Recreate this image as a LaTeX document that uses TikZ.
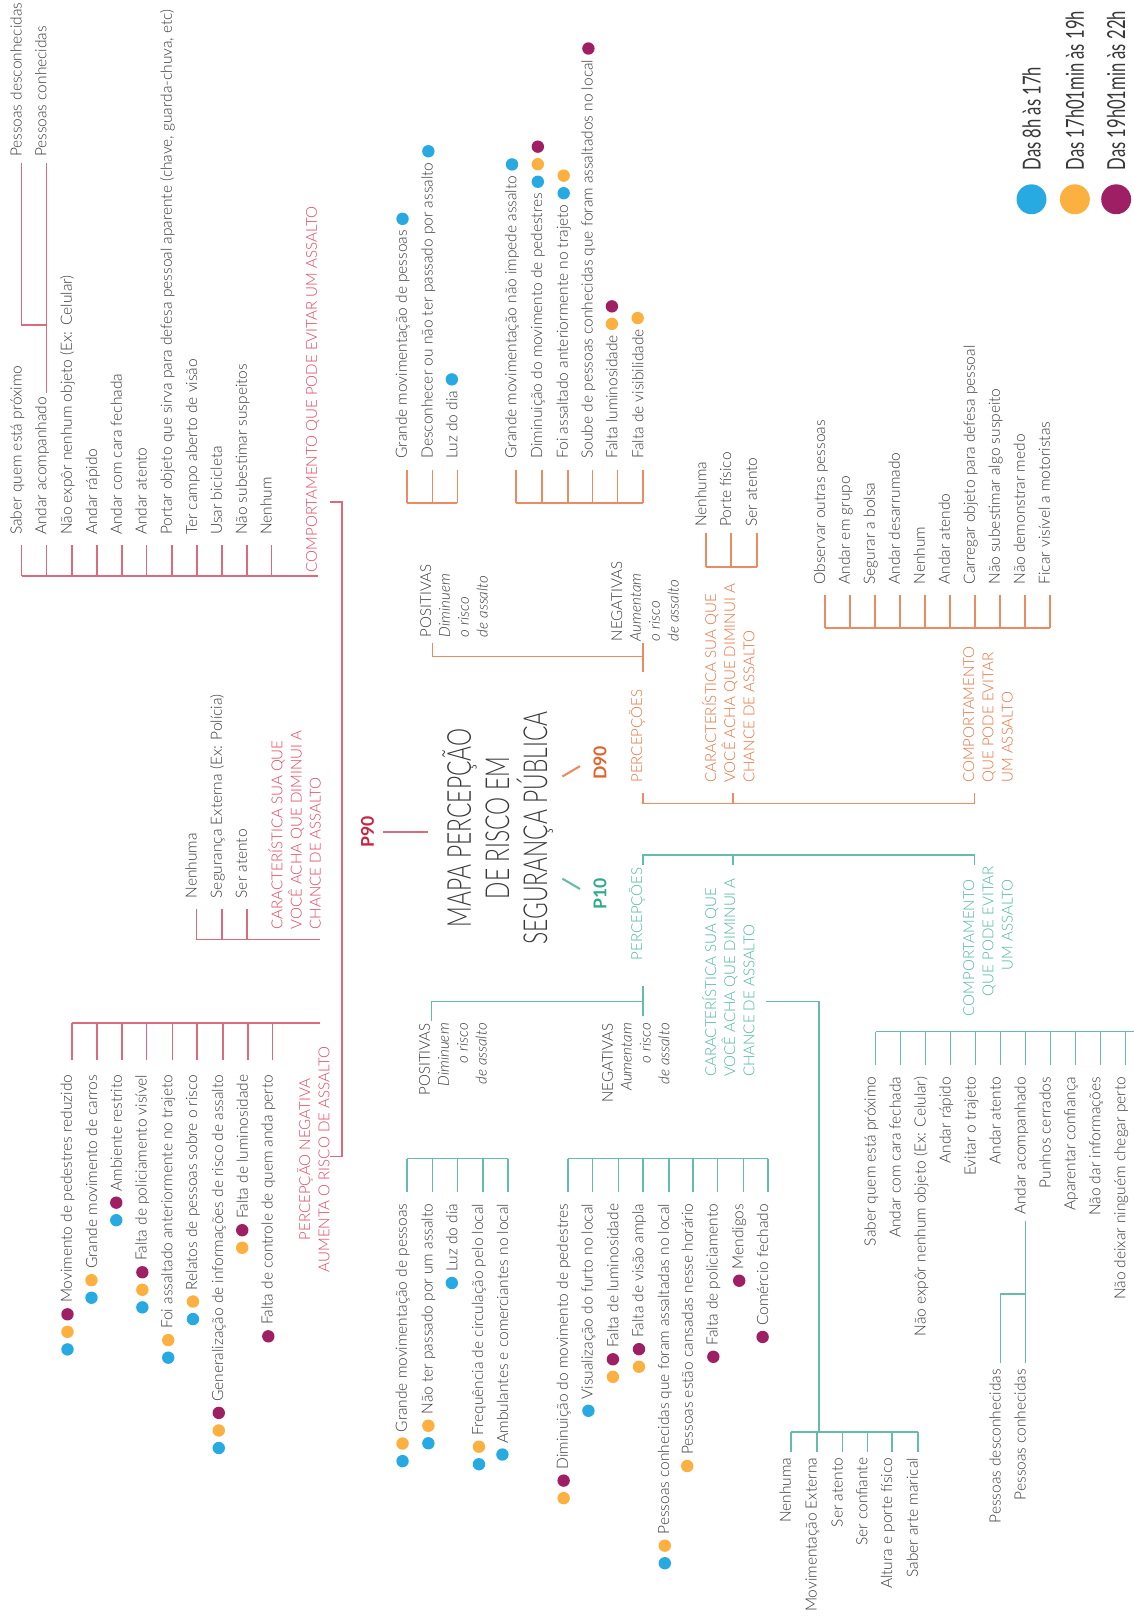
\documentclass[tikz,border=0pt]{standalone}
\usepackage{fontspec}
\setmainfont{Lato Light}
\newfontfamily\latob{Lato}
\newfontfamily\condf{Lato Light}[FakeStretch=0.69]
\newfontfamily\condr{Lato}[FakeStretch=0.67]
\usetikzlibrary{calc}
\definecolor{p90c}{HTML}{DB6A7E}
\definecolor{p90t}{HTML}{E0445F}
\definecolor{p90b}{HTML}{C8223E}
\definecolor{d90c}{HTML}{E98C64}
\definecolor{d90t}{HTML}{E5703D}
\definecolor{d90b}{HTML}{E2622D}
\definecolor{p10c}{HTML}{66BCAA}
\definecolor{p10t}{HTML}{4FB5A0}
\definecolor{p10b}{HTML}{2FAA8C}
\definecolor{dB}{HTML}{27AAE1}
\definecolor{dO}{HTML}{FBB040}
\definecolor{dP}{HTML}{9E1F63}
\definecolor{txt}{HTML}{383838}
\newcommand\mkdu[2]{\foreach \c [count=\i from 0] in {#2}{\fill[\c] ($(#1.east)+(0,-11-17*\i)$) circle (3pt);}}
\newcommand\mkdd[2]{\foreach \c [count=\i from 0] in {#2}{\fill[\c] ($(#1.west)+(0,11+17*\i)$) circle (3pt);}}
\begin{document}
\begin{tikzpicture}[x=0.5pt,y=-0.5pt,
  every node/.style={inner sep=0pt,outer sep=0pt},
  it/.style={rotate=90,font=\fontsize{7.5}{9}\selectfont,text=txt},
  up/.style={it,anchor=base west},
  dn/.style={it,anchor=base east},
  gr/.style={rotate=90,font=\fontsize{7.3}{9.15}\selectfont,text=txt},
  lab/.style={rotate=90,font=\fontsize{7.3}{9.3}\selectfont},
  lr9/.style={lab,text=p90t},
  lo9/.style={lab,text=d90t},
  lt1/.style={lab,text=p10t},
  big/.style={rotate=90,font=\latob\bfseries\fontsize{8.5}{10}\selectfont},
  leg/.style={rotate=90,font=\condr\fontsize{12}{14}\selectfont,text=txt,anchor=west},
  ln/.style={line width=0.75pt},
  lr/.style={ln,draw=p90c},
  lo/.style={ln,draw=d90c},
  lt/.style={ln,draw=p10c}]
\useasboundingbox (0,0) rectangle (1098,1568);
\fill[white] (0,0) rectangle (1098,1568);

% ---------- legend
\fill[dB] (999,193) circle (7.25pt);
\fill[dO] (1041,193) circle (7.25pt);
\fill[dP] (1081,193) circle (7.25pt);
\node[leg] (lg1) at (999,165) {Das 8h às 17h};
\node[leg] (lg2) at (1041,165) {Das 17h01min às 19h};
\node[leg] (lg3) at (1081,165) {Das 19h01min às 22h};

% ---------- title and groups
\node[rotate=90,align=center,font=\condf\fontsize{16}{18.5}\selectfont,text=txt] (title) at (482,802) {MAPA PERCEPÇÃO\\DE RISCO EM\\SEGURANÇA PÚBLICA};
\node[big,text=p90b] (p90) at (356,806) {P90};
\node[big,text=d90b] (d90) at (581,739) {D90};
\node[big,text=p10b] (p10) at (581,866) {P10};
\draw[lr,line width=1pt] ([xshift=4.5pt]p90.south) -- ++(43,0);
\draw[lo,line width=1pt] (d90.north) ++(-13,3) -- ++(-17,10);
\draw[lt,line width=1pt] (p10.north) ++(-13,-5) -- ++(-17,-10);

% ================= P90 =================
\node[lr9,anchor=base west] (p90comp) at (307,554) {COMPORTAMENTO QUE PODE EVITAR UM ASSALTO};
\node[up] (pa1) at (21,518) {Saber quem está próximo};
\node[up] (pa2) at (45,518) {Andar acompanhado};
\node[up] (pa3) at (69.5,518) {Não expôr nenhum objeto (Ex: Celular)};
\node[up] (pa4) at (94,518) {Andar rápido};
\node[up] (pa5) at (118,518) {Andar com cara fechada};
\node[up] (pa6) at (142,518) {Andar atento};
\node[up] (pa7) at (166.5,518) {Portar objeto que sirva para defesa pessoal aparente (chave, guarda-chuva, etc)};
\node[up] (pa8) at (191,518) {Ter campo aberto de visão};
\node[up] (pa9) at (215,518) {Usar bicicleta};
\node[up] (pa10) at (239,518) {Não subestimar suspeitos};
\node[up] (pa11) at (263,518) {Nenhum};
\foreach \i in {1,...,11} \draw[lr] ([yshift=-5pt]pa\i.base west) -- ++(0,30);
\draw[lr] (21,558) -- (308,558);
\node[up] (pd) at (21,152) {Pessoas desconhecidas};
\node[up] (pk) at (45,152) {Pessoas conhecidas};
\draw[lr] ([yshift=-3pt]pd.base west) |- (45,315);
\draw[lr] ([yshift=2pt]pa2.base east) -- ([yshift=-3pt]pk.base west);

\coordinate (p90t1) at (320,486);
\coordinate (p90t2) at (320,1120);
\draw[lr] (p90t1) -- ++(11,0) |- (p90t2);

\node[up] (pc1) at (190.5,870) {Nenhuma};
\node[up] (pc2) at (215,870) {Segurança Externa (Ex: Polícia)};
\node[up] (pc3) at (239,870) {Ser atento};
\foreach \i in {1,2,3} \draw[lr] ([yshift=-5pt]pc\i.base west) -- ++(0,30);
\draw[lr] (190.5,910) -- (310,910);
\node[lr9,anchor=north west,align=left] (p90car) at (260,900) {CARACTERÍSTICA SUA QUE\\VOCÊ ACHA QUE DIMINUI A\\CHANCE DE ASSALTO};

\node[lr9,align=center] (p90neg) at (303.5,1123) {PERCEPÇÃO NEGATIVA\\AUMENTA O RISCO DE ASSALTO};
\node[dn] (pn1) at (69.5,1041) {Movimento de pedestres reduzido}; \mkdd{pn1}{dP,dO,dB}
\node[dn] (pn2) at (94,1041) {Grande movimento de carros}; \mkdd{pn2}{dO,dB}
\node[dn] (pn3) at (118,1041) {Ambiente restrito}; \mkdd{pn3}{dP,dB}
\node[dn] (pn4) at (142,1041) {Falta de policiamento visível}; \mkdd{pn4}{dP,dO,dB}
\node[dn] (pn5) at (167,1041) {Foi assaltado anteriormente no trajeto}; \mkdd{pn5}{dO,dB}
\node[dn] (pn6) at (191,1041) {Relatos de pessoas sobre o risco}; \mkdd{pn6}{dO,dB}
\node[dn] (pn7) at (216,1041) {Generalização de informações de risco de assalto}; \mkdd{pn7}{dP,dO,dB}
\node[dn] (pn8) at (240,1041) {Falta de luminosidade}; \mkdd{pn8}{dP,dO}
\node[dn] (pn9) at (264,1041) {Falta de controle de quem anda perto}; \mkdd{pn9}{dP}
\foreach \i in {1,...,9} \draw[lr] ([yshift=7pt]pn\i.base east) -- ++(0,-36);
\draw[lr] (69.5,991) -- (310,991);

% ================= D90 =================
\node[lo9,anchor=base west] (d90perc) at (622,758) {PERCEPÇÕES};
\node[lo9,anchor=north west,align=left] (d90car) at (680,758) {CARACTERÍSTICA SUA QUE\\VOCÊ ACHA QUE DIMINUI A\\CHANCE DE ASSALTO};
\node[lo9,anchor=north west,align=left] (d90comp) at (933,758) {COMPORTAMENTO\\QUE PODE EVITAR\\UM ASSALTO};
\draw[lo] (623,768) -- (623,778) -- (944,778) -- (944,768);
\draw[lo] (710,768) -- (710,778);
\draw[lo] (623,651) -- (623,623);
\draw[lo] (623,636) -- (419,636) -- (419,623);
\node[gr,anchor=north west,align=left] (d90pos) at (407,617) {POSITIVAS\\\textit{Diminuem}\\\textit{o risco}\\\textit{de assalto}};
\node[gr,anchor=north west,align=left] (d90neg) at (592,621) {NEGATIVAS\\\textit{Aumentam}\\\textit{o risco}\\\textit{de assalto}};

\node[up] (dp1) at (394,444) {Grande movimentação de pessoas}; \mkdu{dp1}{dB}
\node[up] (dp2) at (419,444) {Desconhecer ou não ter passado por assalto}; \mkdu{dp2}{dB}
\node[up] (dp3) at (443,444) {Luz do dia}; \mkdu{dp3}{dB}
\foreach \i in {1,2,3} \draw[lo] ([yshift=-5.5pt]dp\i.base west) -- ++(0,32);
\draw[lo] (394,487) -- (443,487);

\node[up] (dn1) at (500,444) {Grande movimentação não impede assalto}; \mkdu{dn1}{dB}
\node[up] (dn2) at (525,444) {Diminuição do movimento de pedestres}; \mkdu{dn2}{dB,dO,dP}
\node[up] (dn3) at (550,444) {Foi assaltado anteriormente no trajeto}; \mkdu{dn3}{dB,dO}
\node[up] (dn4) at (574,444) {Soube de pessoas conhecidas que foram assaltados no local}; \mkdu{dn4}{dP}
\node[up] (dn5) at (598,444) {Falta luminosidade}; \mkdu{dn5}{dO,dP}
\node[up] (dn6) at (623,444) {Falta de visibilidade}; \mkdu{dn6}{dO}
\foreach \i in {1,...,6} \draw[lo] ([yshift=-5.5pt]dn\i.base west) -- ++(0,32);
\draw[lo] (500,487) -- (623,487);

\node[up] (dc1) at (684,510) {Nenhuma};
\node[up] (dc2) at (708,510) {Porte físico};
\node[up] (dc3) at (733,510) {Ser atento};
\foreach \i in {1,2,3} \draw[lo] ([yshift=-3pt]dc\i.base west) -- ++(0,33);
\draw[lo] (684,549) -- (733,549);

\node[up] (dm1) at (799,566) {Observar outras pessoas};
\node[up] (dm2) at (823.2,566) {Andar em grupo};
\node[up] (dm3) at (847.4,566) {Segurar a bolsa};
\node[up] (dm4) at (871.6,566) {Andar desarrumado};
\node[up] (dm5) at (895.8,566) {Nenhum};
\node[up] (dm6) at (920,566) {Andar atendo};
\node[up] (dm7) at (944.2,566) {Carregar objeto para defesa pessoal};
\node[up] (dm8) at (968.4,566) {Não subestimar algo suspeito};
\node[up] (dm9) at (992.6,566) {Não demonstrar medo};
\node[up] (dm10) at (1016.8,566) {Ficar visível a motoristas};
\foreach \i in {1,...,10} \draw[lo] ([yshift=-5pt]dm\i.base west) -- ++(0,32);
\draw[lo] (799,608) -- (1016.8,608);

% ================= P10 =================
\node[lt1,anchor=base east] (p10perc) at (622,840) {PERCEPÇÕES};
\node[lt1,anchor=north west,align=left] (p10car) at (680,1043) {CARACTERÍSTICA SUA QUE\\VOCÊ ACHA QUE DIMINUI A\\CHANCE DE ASSALTO};
\node[lt1,anchor=north east,align=right] (p10comp) at (933,839) {COMPORTAMENTO\kern6.5pt\\QUE PODE EVITAR\\UM ASSALTO\kern6.5pt};
\draw[lt] (623,838) -- (623,828) -- (944,828) -- (944,838);
\draw[lt] (710,828) -- (710,838);
\draw[lt] (623,955) -- (623,984);
\draw[lt] (623,970) -- (418,970) -- (418,989);
\node[gr,anchor=north east,align=right] (p10pos) at (406,991) {POSITIVAS\\\textit{Diminuem}\\\textit{o risco}\\\textit{de assalto}};
\node[gr,anchor=north east,align=right] (p10neg) at (583,991) {NEGATIVAS\\\textit{Aumentam}\\\textit{o risco}\\\textit{de assalto}};

\node[dn] (qp1) at (394,1166) {Grande movimentação de pessoas}; \mkdd{qp1}{dO,dB}
\node[dn] (qp2) at (419,1166) {Não ter passado por um assalto}; \mkdd{qp2}{dO,dB}
\node[dn] (qp3) at (443,1166) {Luz do dia}; \mkdd{qp3}{dB}
\node[dn] (qp4) at (468,1166) {Frequência de circulação pelo local}; \mkdd{qp4}{dO,dB}
\node[dn] (qp5) at (492,1166) {Ambulantes e comerciantes no local}; \mkdd{qp5}{dB}
\foreach \i in {1,...,5} \draw[lt] ([yshift=6pt]qp\i.base east) -- ++(0,-32);
\draw[lt] (394,1122) -- (492,1122);

\node[dn] (qn1) at (550,1166) {Diminuição do movimento de pedestres}; \mkdd{qn1}{dP,dO}
\node[dn] (qn2) at (574,1166) {Visualização do furto no local}; \mkdd{qn2}{dB}
\node[dn] (qn3) at (599,1166) {Falta de luminosidade}; \mkdd{qn3}{dP,dO}
\node[dn] (qn4) at (623,1166) {Falta de visão ampla}; \mkdd{qn4}{dP,dO}
\node[dn] (qn5) at (648,1166) {Pessoas conhecidas que foram assaltadas no local}; \mkdd{qn5}{dO,dB}
\node[dn] (qn6) at (671,1166) {Pessoas estão cansadas nesse horário}; \mkdd{qn6}{dO}
\node[dn] (qn7) at (695,1166) {Falta de policiamento}; \mkdd{qn7}{dP}
\node[dn] (qn8) at (720,1166) {Mendigos}; \mkdd{qn8}{dP}
\node[dn] (qn9) at (744,1166) {Comércio fechado}; \mkdd{qn9}{dP}
\foreach \i in {1,...,9} \draw[lt] ([yshift=6pt]qn\i.base east) -- ++(0,-32);
\draw[lt] (550,1122) -- (744,1122);

\draw[lt] (742,970) -- (793,970) -- (793,1387);
\node[dn] (qc1) at (766,1412) {Nenhuma};
\node[dn] (qc2) at (791,1412) {Movimentação Externa};
\node[dn] (qc3) at (816,1412) {Ser atento};
\node[dn] (qc4) at (840,1412) {Ser confiante};
\node[dn] (qc5) at (864,1412) {Altura e porte físico};
\node[dn] (qc6) at (889,1412) {Saber arte marical};
\foreach \i in {1,...,6} \draw[lt] ([yshift=3pt]qc\i.base east) -- ++(0,-19);
\draw[lt] (766,1387) -- (889,1387);

\node[dn] (qm1) at (848,1043) {Saber quem está próximo};
\node[dn] (qm2) at (872.2,1043) {Andar com cara fechada};
\node[dn] (qm3) at (896.4,1043) {Não expôr nenhum objeto (Ex: Celular)};
\node[dn] (qm4) at (920.6,1043) {Andar rápido};
\node[dn] (qm5) at (944.8,1043) {Evitar o trajeto};
\node[dn] (qm6) at (969,1043) {Andar atento};
\node[dn] (qm7) at (993.2,1043) {Andar acompanhado};
\node[dn] (qm8) at (1017.4,1043) {Punhos cerrados};
\node[dn] (qm9) at (1041.6,1043) {Aparentar confiança};
\node[dn] (qm10) at (1065.8,1043) {Não dar informações};
\node[dn] (qm11) at (1090,1043) {Não deixar ninguém chegar perto};
\foreach \i in {1,...,11} \draw[lt] ([yshift=6pt]qm\i.base east) -- ++(0,-32);
\draw[lt] (848,999) -- (1098,999);
\node[dn] (qpd) at (969,1326) {Pessoas desconhecidas};
\node[dn] (qpk) at (993.2,1326) {Pessoas conhecidas};
\draw[lt] ([yshift=-3pt]qm7.base west) -- ([yshift=3pt]qpk.base east);
\draw[lt] (993.2,1253) -| ([yshift=3pt]qpd.base east);
\end{tikzpicture}
\end{document}
